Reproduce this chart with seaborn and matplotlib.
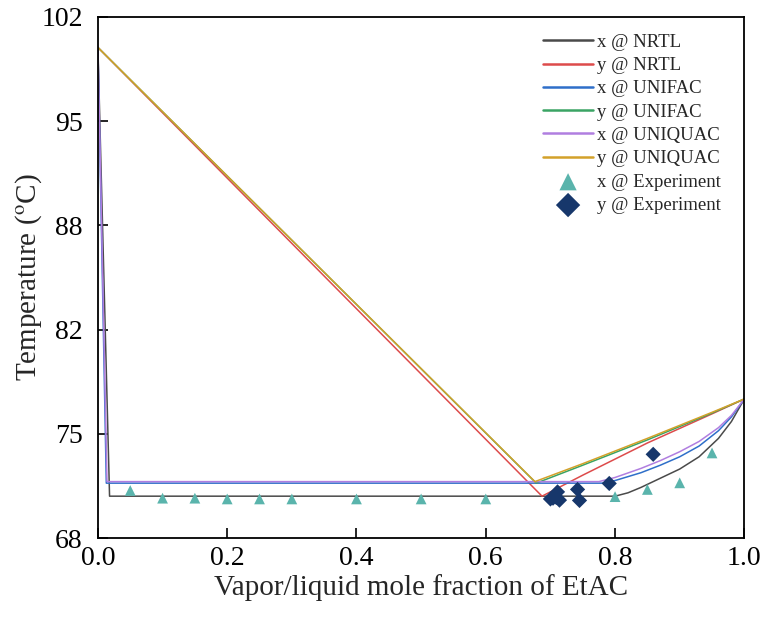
import numpy as np
import pandas as pd
import matplotlib
matplotlib.use("Agg")
import matplotlib.pyplot as plt
import seaborn as sns

# model curves
nrtl_x_frac = [0.0, 0.018, 0.20, 0.40, 0.60, 0.80, 0.82, 0.84, 0.87, 0.90, 0.93, 0.96, 0.98, 1.0]
nrtl_x_temp = [100.0, 70.73, 70.73, 70.73, 70.73, 70.73, 70.95, 71.3, 71.9, 72.5, 73.3, 74.5, 75.6, 77.07]
nrtl_y_frac = [0.0, 0.687, 0.75, 0.85, 0.95, 1.0]
nrtl_y_temp = [100.0, 70.73, 72.1, 74.2, 76.1, 77.07]

unifac_x_frac = [0.0, 0.013, 0.20, 0.40, 0.60, 0.78, 0.80, 0.84, 0.87, 0.90, 0.93, 0.96, 0.98, 1.0]
unifac_x_temp = [100.0, 71.58, 71.58, 71.58, 71.58, 71.58, 71.75, 72.26, 72.75, 73.3, 74.0, 75.0, 75.9, 77.07]
unifac_y_frac = [0.0, 0.678, 0.75, 0.85, 0.95, 1.0]
unifac_y_temp = [100.0, 71.58, 72.75, 74.4, 76.15, 77.07]

uniquac_x_frac = [0.0, 0.014, 0.20, 0.40, 0.60, 0.775, 0.80, 0.84, 0.87, 0.90, 0.93, 0.96, 0.98, 1.0]
uniquac_x_temp = [100.0, 71.68, 71.68, 71.68, 71.68, 71.68, 71.95, 72.54, 73.05, 73.63, 74.3, 75.2, 76.0, 77.07]
uniquac_y_frac = [0.0, 0.676, 0.75, 0.85, 0.95, 1.0]
uniquac_y_temp = [100.0, 71.68, 72.85, 74.5, 76.2, 77.07]

# experimental points
exp_x_frac = [0.05, 0.10, 0.15, 0.20, 0.25, 0.30, 0.40, 0.50, 0.60, 0.80, 0.85, 0.90, 0.95]
exp_x_temp = [71.1, 70.6, 70.6, 70.55, 70.55, 70.55, 70.55, 70.55, 70.55, 70.7, 71.17, 71.6, 73.55]
exp_y_frac = [0.700, 0.704, 0.709, 0.714, 0.711, 0.742, 0.745, 0.791, 0.859]
exp_y_temp = [70.55, 70.6, 70.65, 70.47, 71.01, 71.17, 70.45, 71.56, 73.46]

y_ticks = [68, 74.8, 81.6, 88.4, 95.2, 102]
y_tick_labels = ["68", "75", "82", "88", "95", "102"]
x_ticks = [0.0, 0.2, 0.4, 0.6, 0.8, 1.0]

sns.set_theme(style="ticks")
plt.rcParams['font.family'] = ['Liberation Serif', 'DejaVu Serif']
plt.rcParams['mathtext.fontset'] = 'stix'

fig = plt.figure(figsize=(7.65, 6.22), dpi=100)
ax = fig.add_axes([0.128, 0.135, 0.845, 0.838])

curves = [
    (nrtl_x_frac, nrtl_x_temp, "x @ NRTL", "#4a4a4a"),
    (nrtl_y_frac, nrtl_y_temp, "y @ NRTL", "#dd4b4b"),
    (unifac_x_frac, unifac_x_temp, "x @ UNIFAC", "#2f6fc9"),
    (unifac_y_frac, unifac_y_temp, "y @ UNIFAC", "#3aa464"),
    (uniquac_x_frac, uniquac_x_temp, "x @ UNIQUAC", "#b07ee0"),
    (uniquac_y_frac, uniquac_y_temp, "y @ UNIQUAC", "#d3a12a"),
]
for xs, ys, lab, col in curves:
    sns.lineplot(x=xs, y=ys, ax=ax, label=lab, color=col, lw=1.1,
                 sort=False, estimator=None)

sns.scatterplot(x=exp_x_frac, y=exp_x_temp, ax=ax, marker="^", s=60,
                color="#5ab4ac", edgecolor="none", label="x @ Experiment", zorder=3)
sns.scatterplot(x=exp_y_frac, y=exp_y_temp, ax=ax, marker="D", s=60,
                color="#17376b", edgecolor="none", label="y @ Experiment", zorder=3)

ax.set_xlim(0, 1.0)
ax.set_ylim(68, 102)
ax.set_xticks(x_ticks)
ax.set_xticklabels([f"{t:.1f}" for t in x_ticks])
ax.set_yticks(y_ticks)
ax.set_yticklabels(y_tick_labels)
ax.tick_params(direction="in", length=7, width=1.2, labelsize=20, colors="black")
ax.tick_params(axis="y", pad=11)
ax.tick_params(axis="x", pad=6)
for sp in ax.spines.values():
    sp.set_visible(True)
    sp.set_color("black")
    sp.set_linewidth(1.3)

ax.set_xlabel("Vapor/liquid mole fraction of EtAC", fontsize=21, labelpad=2)
ax.set_ylabel("Temperature ($^{\\mathrm{o}}$C)", fontsize=21, labelpad=-2)

leg = ax.legend(loc="upper right", frameon=False, fontsize=13.5, handlelength=2.7,
                handletextpad=0.2, labelspacing=0.33, borderaxespad=0.5,
                bbox_to_anchor=(0.99, 1.0), markerscale=1.6)
for h in leg.get_lines():
    h.set_linewidth(1.8)

fig.savefig("out.png", dpi=100)
